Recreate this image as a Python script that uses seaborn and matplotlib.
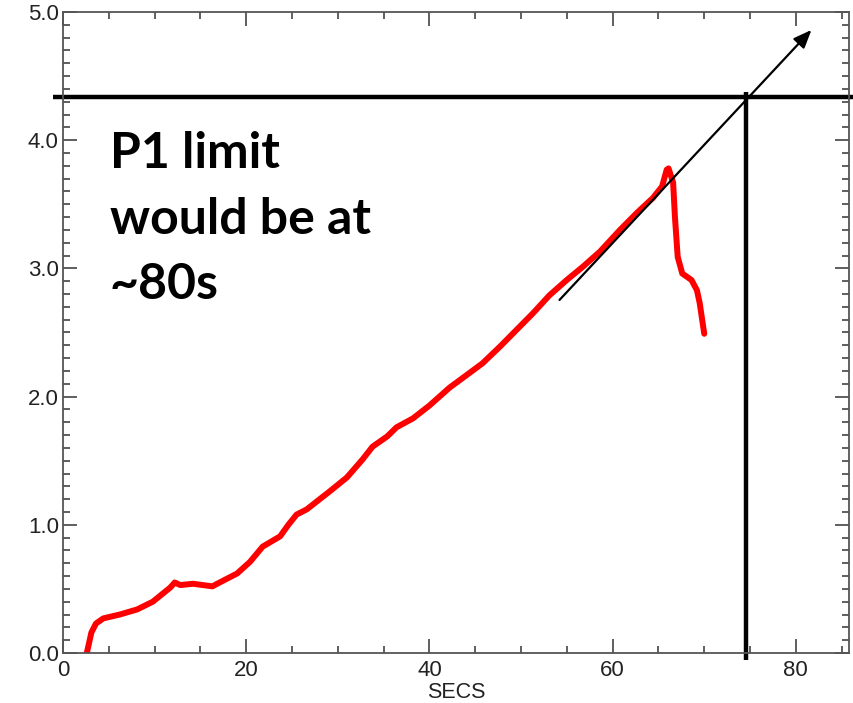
import numpy as np
import pandas as pd
import matplotlib
matplotlib.use("Agg")
import matplotlib.pyplot as plt
from matplotlib.ticker import MultipleLocator
import seaborn as sns

# Data
secs = [2.6, 3.1, 3.6, 4.4, 6.2, 8.1, 9.8, 11.7, 12.2, 12.8, 14.2, 16.3, 17.1,
        19.0, 20.4, 21.8, 23.7, 24.6, 25.5, 26.6, 29.1, 31.0, 32.7, 33.8, 35.4,
        36.4, 38.2, 40.0, 42.2, 44.1, 45.8, 47.7, 49.5, 51.3, 53.1, 55.0, 56.7,
        58.6, 60.8, 62.6, 64.4, 65.4, 65.9, 66.1, 66.6, 66.8, 67.1, 67.6, 68.6,
        69.2, 69.5, 70.0]
signal = [0.0, 0.16, 0.23, 0.27, 0.30, 0.34, 0.40, 0.51, 0.55, 0.53, 0.54, 0.52, 0.55,
          0.62, 0.71, 0.83, 0.91, 1.0, 1.08, 1.12, 1.26, 1.37, 1.51, 1.61, 1.69,
          1.76, 1.83, 1.93, 2.07, 2.17, 2.26, 2.39, 2.52, 2.65, 2.79, 2.91, 3.01,
          3.13, 3.30, 3.43, 3.55, 3.64, 3.77, 3.78, 3.67, 3.40, 3.09, 2.96, 2.91,
          2.83, 2.73, 2.49]
limit_y = 4.337
limit_x = 74.6
arrow_start = (54.2, 2.754)
arrow_end = (81.7, 4.86)
note_text = "P1 limit\nwould be at\n~80s"
xticks = [0, 20, 40, 60, 80]
yticks = [0.0, 1.0, 2.0, 3.0, 4.0, 5.0]

sns.set_style("ticks")
plt.rcParams['font.family'] = ['Liberation Sans', 'DejaVu Sans']

fig = plt.figure(figsize=(8.54, 7.03), dpi=100)
ax = fig.add_axes([63/854, 50/703, (849-63)/854, (653-12)/703])

df = pd.DataFrame({"SECS": secs, "signal": signal})
sns.lineplot(data=df, x="SECS", y="signal", ax=ax, color="#ff0000", lw=4.3,
             sort=False, estimator=None)

ax.set_xlim(0, 85.8)
ax.set_ylim(0, 5.0)
ax.set_xticks(xticks)
ax.set_xticklabels([str(t) for t in xticks])
ax.set_yticks(yticks)
ax.set_yticklabels([f"{t:.1f}" for t in yticks])
ax.xaxis.set_minor_locator(MultipleLocator(5))
ax.yaxis.set_minor_locator(MultipleLocator(0.1))
ax.tick_params(which="both", direction="in", top=True, right=True,
               color="#444444", width=1.2, labelsize=16, labelcolor="#222222")
ax.tick_params(which="major", length=10)
ax.tick_params(which="minor", length=5)
ax.tick_params(axis="x", which="major", pad=5)
ax.tick_params(axis="y", which="major", pad=3)
for s in ax.spines.values():
    s.set_color("#555555")
    s.set_linewidth(1.3)
ax.set_xlabel("SECS", fontsize=15.5, color="#222222", labelpad=1)
ax.set_ylabel("")

# Limit lines (extend beyond axes)
ax.plot([-1.1, 86.4], [limit_y, limit_y], color="black", lw=3.2, clip_on=False,
        solid_capstyle="butt")
ax.plot([limit_x, limit_x], [-0.055, 4.376], color="black", lw=3.2, clip_on=False,
        solid_capstyle="butt")

ax.annotate("", xy=arrow_end, xytext=arrow_start,
            arrowprops=dict(arrowstyle="-|>,head_length=1.1,head_width=0.45",
                            color="black", lw=1.6, shrinkA=0, shrinkB=0))

ax.text(5.1, 4.07, note_text, fontsize=36, fontweight="bold",
        family=["Lato", "DejaVu Sans"], va="top", ha="left", linespacing=1.55,
        color="black")

fig.savefig("out.png", dpi=100)
